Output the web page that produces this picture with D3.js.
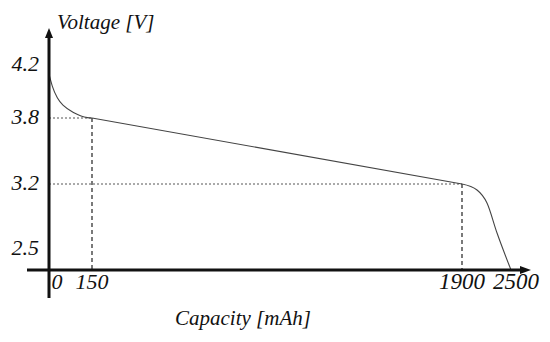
<!DOCTYPE html>
<html><head><meta charset="utf-8">
<script src="https://cdn.jsdelivr.net/npm/d3@7"></script>
<style>body{margin:0;background:#fff}svg{display:block}</style>
</head><body><svg id="c" width="550" height="342"></svg>
<script>
// Data (schematic discharge curve)
const capacity = [0, 11.5, 29, 52, 87, 134, 150, 1900, 2084, 2206, 2329, 2500];
const voltage  = [4.19, 4.084, 3.98, 3.907, 3.847, 3.803, 3.8, 3.2, 3.135, 2.995, 2.672, 2.3];
const xTickValues = [0, 150, 1900, 2500];
const xTickLabels = ["0", "150", "1900", "2500"];
const yTickValues = [2.5, 3.2, 3.8, 4.2];
const yTickLabels = ["2.5", "3.2", "3.8", "4.2"];
const markerCapacity = [150, 1900];
const markerVoltage = [3.8, 3.2];

const FONT = "'Liberation Serif', 'Times New Roman', Times, serif";
const svg = d3.select("#c");
// schematic (piecewise) scales
const x = d3.scaleLinear().domain([0, 150, 1900, 2500]).range([49, 92, 462, 511]);
const y = d3.scaleLinear().domain([2.3, 2.5, 3.2, 3.8, 4.2]).range([270, 249, 184, 118, 73]);
const x0 = x(0), yb = y(2.3);

// guide lines
markerVoltage.forEach((v, i) => {
  svg.append("line").attr("x1", x0).attr("x2", x(markerCapacity[i])).attr("y1", y(v)).attr("y2", y(v))
    .attr("stroke", "#555").attr("stroke-width", 1).attr("stroke-dasharray", "2,2");
  svg.append("line").attr("x1", x(markerCapacity[i])).attr("x2", x(markerCapacity[i])).attr("y1", y(v)).attr("y2", yb)
    .attr("stroke", "#333").attr("stroke-width", 1.3).attr("stroke-dasharray", "4,3");
});

// curve: smooth head, straight plateau, smooth knee
const pts = capacity.map((c, i) => [c, voltage[i]]);
const i150 = capacity.indexOf(150), i1900 = capacity.indexOf(1900);
const segs = [
  [pts.slice(0, i150 + 1), d3.curveMonotoneX],
  [pts.slice(i150, i1900 + 1), d3.curveLinear],
  [pts.slice(i1900), d3.curveMonotoneX]
];
segs.forEach(([p, cv]) => {
  svg.append("path").datum(p)
    .attr("d", d3.line().x(d => x(d[0])).y(d => y(d[1])).curve(cv))
    .attr("fill", "none").attr("stroke", "#444").attr("stroke-width", 1.1);
});

// axes
svg.append("line").attr("x1", x0).attr("x2", x0).attr("y1", 36).attr("y2", 298).attr("stroke", "#111").attr("stroke-width", 3);
svg.append("path").attr("d", `M${x0},28 L${x0-4},38 L${x0+4},38 Z`).attr("fill", "#111");
svg.append("line").attr("x1", 27).attr("x2", 522).attr("y1", yb).attr("y2", yb).attr("stroke", "#111").attr("stroke-width", 3);
svg.append("path").attr("d", `M531,${yb} L520,${yb-4} L520,${yb+4} Z`).attr("fill", "#111");

function txt(xp, yp, s, size, anchor) {
  return svg.append("text").attr("x", xp).attr("y", yp).attr("text-anchor", anchor || "start")
    .attr("font-family", FONT).attr("font-style", "italic").attr("font-size", size)
    .attr("fill", "#111").text(s);
}
// tick labels
const xOff = [8, 0, 0, 5];
xTickValues.forEach((v, i) => txt(x(v) + xOff[i], 289, xTickLabels[i], i >= 2 ? 23 : 22, "middle"));
yTickValues.forEach((v, i) => txt(39, (v === 4.2 ? 65 : y(v)) + 6, yTickLabels[i], 22, "end"));

// axis titles
txt(57, 29, "Voltage [V]", 21);
txt(175, 325, "Capacity [mAh]", 21);
</script></body></html>
